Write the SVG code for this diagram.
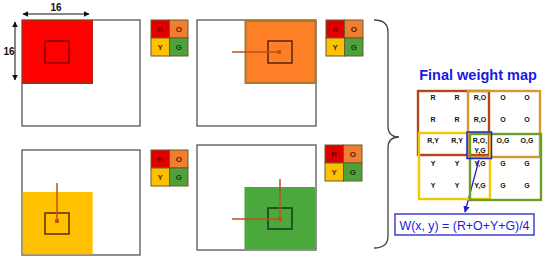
<svg xmlns="http://www.w3.org/2000/svg" width="550" height="264" viewBox="0 0 550 264">
<defs>
<style>
.frame{fill:#fff;stroke:#555;stroke-width:1.3}
.inner{fill:none;stroke-width:1.5}
.arr{stroke:#c0501a;stroke-width:1.5;fill:none}
.dim{stroke:#111;stroke-width:1;fill:none}
.lg{stroke:#6b5a2a;stroke-width:1}
.lt{font-family:"Liberation Sans",Arial,sans-serif;font-size:8px;font-weight:bold;text-anchor:middle}
.cell{font-family:"Liberation Sans",Arial,sans-serif;font-size:7px;font-weight:bold;text-anchor:middle;fill:#111}
.wm{fill:none;stroke-width:2.4}
</style>
<marker id="ah" viewBox="0 0 10 10" refX="9" refY="5" markerWidth="6" markerHeight="6" orient="auto-start-reverse"><path d="M0,0 L10,5 L0,10 z" fill="#111"/></marker>
<marker id="dot" viewBox="0 0 10 10" refX="5" refY="5" markerWidth="3" markerHeight="3"><circle cx="5" cy="5" r="5" fill="#c0501a"/></marker>
<marker id="bh" viewBox="0 0 10 10" refX="9" refY="5" markerWidth="5" markerHeight="5" orient="auto"><path d="M0,0 L10,5 L0,10 z" fill="#2222cc"/></marker>
<g id="legend">
<rect x="0" y="0" width="18.5" height="18" fill="#e00000" class="lg"/>
<rect x="18.5" y="0" width="18.5" height="18" fill="#ef7f30" class="lg"/>
<rect x="0" y="18" width="18.5" height="18" fill="#ffc000" class="lg"/>
<rect x="18.5" y="18" width="18.5" height="18" fill="#4ea23c" class="lg"/>
<text x="9.25" y="12" class="lt" fill="#7a0000">R</text>
<text x="27.75" y="12" class="lt" fill="#5a1a00">O</text>
<text x="9.25" y="30" class="lt" fill="#4a3000">Y</text>
<text x="27.75" y="30" class="lt" fill="#0f3d0f">G</text>
</g>
</defs>

<g id="panel-red">
<rect class="frame" x="22" y="20" width="118" height="106"/>
<rect x="23" y="21" width="69" height="62" fill="#ff0000" stroke="#b02810" stroke-width="2"/>
<rect class="inner" x="45" y="41" width="24" height="22" stroke="#8b0000"/>
<line class="dim" x1="23" y1="14" x2="89" y2="14" marker-start="url(#ah)" marker-end="url(#ah)"/>
<text x="56" y="11" font-family="Liberation Sans,Arial,sans-serif" font-size="10" font-weight="bold" text-anchor="middle" fill="#111">16</text>
<line class="dim" x1="15" y1="22" x2="15" y2="80" marker-start="url(#ah)" marker-end="url(#ah)"/>
<text x="9" y="55" font-family="Liberation Sans,Arial,sans-serif" font-size="10" font-weight="bold" text-anchor="middle" fill="#111">16</text>
</g>
<g id="legend-1"><use href="#legend" x="151" y="20"/></g>

<g id="panel-orange">
<rect class="frame" x="197" y="20" width="119" height="106"/>
<rect x="245.5" y="21" width="70" height="62" fill="#ff7f27" stroke="#a87a30" stroke-width="2"/>
<rect class="inner" x="268" y="41" width="24" height="22" stroke="#5a2210"/>
</g>
<g id="legend-2"><use href="#legend" x="326" y="20"/></g>

<g id="panel-yellow">
<rect class="frame" x="22" y="150" width="118" height="105"/>
<rect x="22.7" y="192" width="70" height="62.3" fill="#ffc000"/>
<rect class="inner" x="45" y="213" width="24" height="21" stroke="#5a2a10"/>
</g>
<g id="legend-3"><use href="#legend" x="151" y="150"/></g>

<g id="panel-green">
<rect class="frame" x="197" y="145" width="119" height="105"/>
<rect x="244.5" y="187" width="70.8" height="62.3" fill="#4aa83c"/>
<rect class="inner" x="268" y="208" width="24" height="21" stroke="#123d12"/>
</g>
<g id="legend-4"><use href="#legend" x="325" y="145"/></g>

<g id="connectors">
<line class="arr" x1="232" y1="52" x2="279" y2="52" marker-end="url(#dot)"/>
<line class="arr" x1="57" y1="183" x2="57" y2="221" marker-end="url(#dot)"/>
<line class="arr" x1="232" y1="219" x2="280" y2="219" marker-end="url(#dot)"/>
<line class="arr" x1="280" y1="179" x2="280" y2="219"/>
<path d="M374,20 Q388,20 388,32 L388,126 Q388,137 399,137 Q388,137 388,148 L388,236 Q388,248 374,248" fill="none" stroke="#444" stroke-width="1.3"/>
<line x1="479" y1="160" x2="465" y2="212" stroke="#2222cc" stroke-width="1.3" marker-end="url(#bh)"/>
</g>

<g id="weight-map">
<text x="478" y="80" font-family="Liberation Sans,Arial,sans-serif" font-size="14.5" font-weight="bold" fill="#1a1ae0" text-anchor="middle">Final weight map</text>
<rect class="wm" x="418" y="91" width="71" height="64" stroke="#b5461b"/>
<rect class="wm" x="468" y="91" width="72" height="66" stroke="#d49a2e"/>
<rect class="wm" x="419" y="133" width="71" height="66" stroke="#f2c800"/>
<rect class="wm" x="470" y="134" width="71" height="66" stroke="#6e9e2a"/>
<rect x="467" y="132" width="24.5" height="26.5" fill="none" stroke="#2222cc" stroke-width="1.5"/>
<g>
<text x="433" y="100" class="cell">R</text><text x="457" y="100" class="cell">R</text><text x="480" y="100" class="cell">R,O</text><text x="503" y="100" class="cell">O</text><text x="527" y="100" class="cell">O</text>
<text x="433" y="122" class="cell">R</text><text x="457" y="122" class="cell">R</text><text x="480" y="122" class="cell">R,O</text><text x="503" y="122" class="cell">O</text><text x="527" y="122" class="cell">O</text>
<text x="433" y="143" class="cell">R,Y</text><text x="457" y="143" class="cell">R,Y</text><text x="480" y="143" class="cell">R,O,</text><text x="480" y="153" class="cell">Y,G</text><text x="503" y="143" class="cell">O,G</text><text x="527" y="143" class="cell">O,G</text>
<text x="433" y="166" class="cell">Y</text><text x="457" y="166" class="cell">Y</text><text x="480" y="166" class="cell">Y,G</text><text x="503" y="166" class="cell">G</text><text x="527" y="166" class="cell">G</text>
<text x="433" y="188" class="cell">Y</text><text x="457" y="188" class="cell">Y</text><text x="480" y="188" class="cell">Y,G</text><text x="503" y="188" class="cell">G</text><text x="527" y="188" class="cell">G</text>
</g>
</g>

<g id="formula">
<rect x="395" y="214" width="139" height="21" fill="#fff" stroke="#2222cc" stroke-width="1.3"/>
<text x="464.5" y="230" font-family="Liberation Sans,Arial,sans-serif" font-size="13" fill="#1a1ae0" text-anchor="middle" textLength="130" lengthAdjust="spacingAndGlyphs">W(x, y) = (R+O+Y+G)/4</text>
</g>
</svg>
